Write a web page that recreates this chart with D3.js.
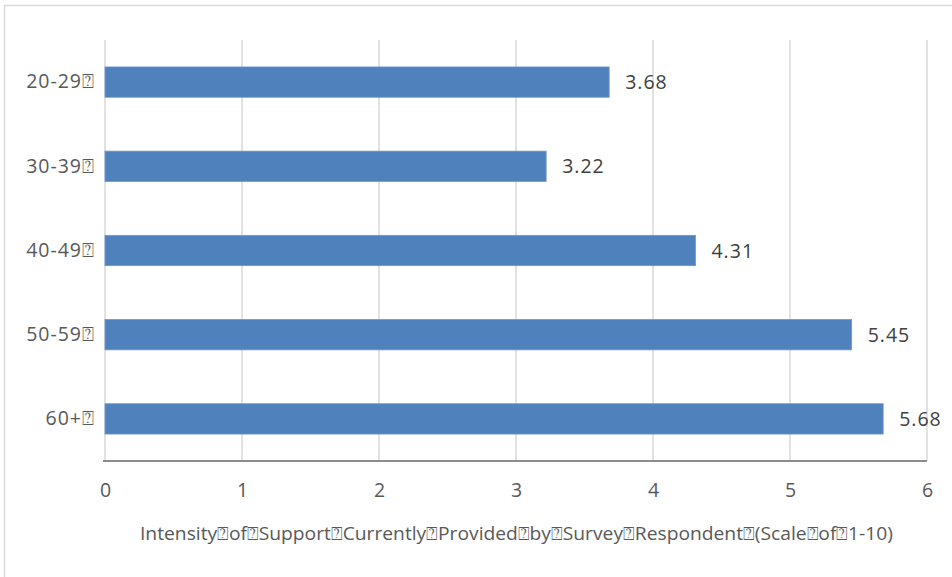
<!DOCTYPE html>
<html><head><meta charset="utf-8">
<script src="https://cdn.jsdelivr.net/npm/d3@7"></script>
<style>body{margin:0;background:#fff}svg{display:block}</style>
</head><body>
<script>
const categories = ["20-29⍰", "30-39⍰", "40-49⍰", "50-59⍰", "60+⍰"];
const values = [3.68, 3.22, 4.31, 5.45, 5.68];
const xTicks = [0, 1, 2, 3, 4, 5, 6];
const xTitle = "Intensity⍰of⍰Support⍰Currently⍰Provided⍰by⍰Survey⍰Respondent⍰(Scale⍰of⍰1-10)";

const W = 952, H = 577;
const m = {left: 105, right: 25, top: 40, bottom: 116};
const svg = d3.select("body").append("svg").attr("width", W).attr("height", H);
const font = "'Open Sans', 'Noto Sans', sans-serif";

svg.append("rect").attr("x", 4.5).attr("y", 5.5).attr("width", 1000).attr("height", 1000)
  .attr("fill", "none").attr("stroke", "#d9d9d9").attr("stroke-width", 1.5);

const x = d3.scaleLinear().domain([0, 6]).range([m.left, W - m.right]);
const y = d3.scaleBand().domain(categories).range([m.top, H - m.bottom]).paddingInner(0.64).paddingOuter(0.32);

const g = svg.append("g");
g.selectAll("line.grid").data(xTicks).join("line").attr("class", "grid")
  .attr("x1", d => x(d)).attr("x2", d => x(d))
  .attr("y1", m.top).attr("y2", H - m.bottom)
  .attr("stroke", "#d9d9d9").attr("stroke-width", 1.5);

g.selectAll("rect.bar").data(values).join("rect").attr("class", "bar")
  .attr("x", x(0)).attr("y", (d, i) => y(categories[i]))
  .attr("width", d => x(d) - x(0)).attr("height", y.bandwidth())
  .attr("fill", "#4f81bd").attr("stroke", "#6e97c9").attr("stroke-width", 0.8);

g.selectAll("text.val").data(values).join("text").attr("class", "val")
  .attr("x", d => x(d) + 16).attr("y", (d, i) => y(categories[i]) + y.bandwidth() / 2)
  .attr("dy", "0.36em").attr("font-family", font).attr("font-size", 19.5).attr("letter-spacing", 1)
  .attr("fill", "#404040")
  .text(d => d.toFixed(2));

const xAxis = g.append("g").attr("transform", `translate(0,${H - m.bottom})`)
  .call(d3.axisBottom(x).tickValues(xTicks).tickSize(0).tickPadding(22).tickFormat(d3.format("d")));
xAxis.select(".domain").attr("stroke", "#8c8c8c").attr("stroke-width", 2).attr("d", `M${x(0)-2},0H${x(6)}`);
xAxis.selectAll("text").attr("font-family", font).attr("font-size", 19.5).attr("fill", "#595959");

const yAxis = g.append("g").attr("transform", `translate(${m.left},0)`)
  .call(d3.axisLeft(y).tickSize(0).tickPadding(10));
yAxis.select(".domain").remove();
yAxis.selectAll("text").attr("font-family", font).attr("font-size", 19.5).attr("letter-spacing", 1)
  .attr("fill", "#595959");

svg.append("text").attr("x", 140).attr("y", 540)
  .attr("font-family", font).attr("font-size", 18).attr("fill", "#595959")
  .attr("textLength", 753).attr("lengthAdjust", "spacingAndGlyphs")
  .text(xTitle);
</script>
</body></html>
